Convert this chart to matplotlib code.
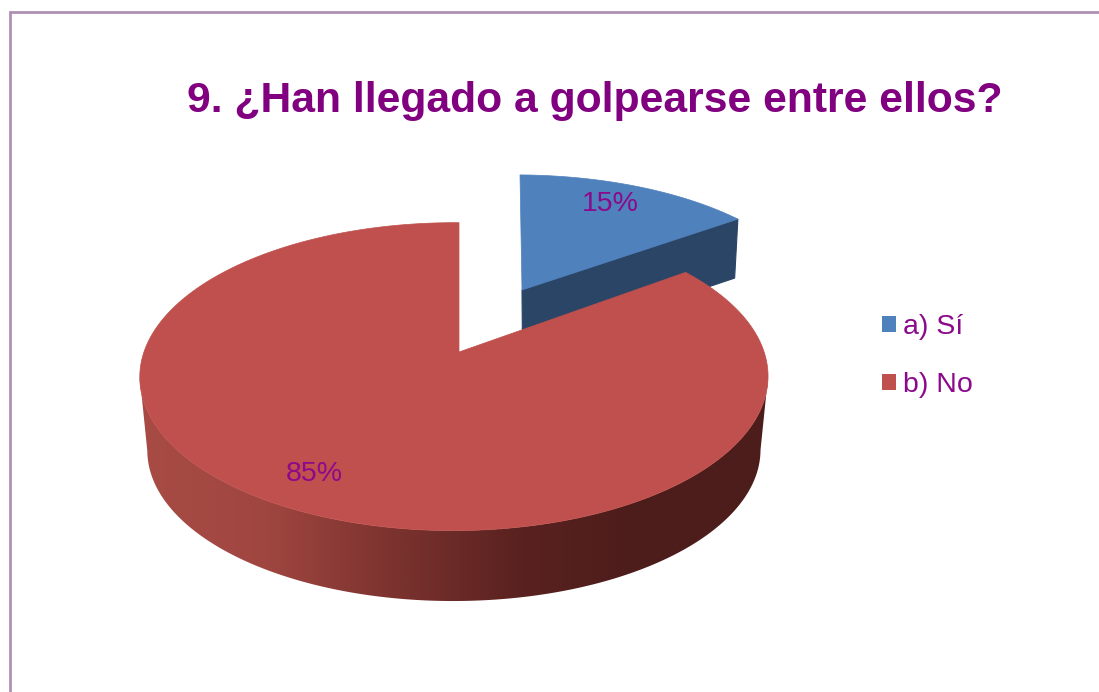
import numpy as np
import matplotlib
matplotlib.use("Agg")
import matplotlib.pyplot as plt
from matplotlib.patches import Polygon, Patch
from matplotlib.colors import LinearSegmentedColormap

title = "9. ¿Han llegado a golpearse entre ellos?"
categories = ["a) Sí", "b) No"]
values = [15, 85]
pct_labels = ["15%", "85%"]
colors = ["#4F81BD", "#C0504D"]

W, H = 1099, 692
plt.rcParams["font.family"] = ["Liberation Sans", "DejaVu Sans"]
fig = plt.figure(figsize=(W / 100, H / 100), dpi=100, facecolor="white")
ax = fig.add_axes([0, 0, 1, 1])
ax.axis("off")

K, M = 0.16, 0.016


def project(theta, ax0, ay0, a=310.0, b=150.0, shear=0.0):
    """Clockwise angle from 12 o'clock on the disc -> perspective pixels."""
    x, y = np.sin(theta), np.cos(theta)
    d = 1 + K * y + M * x
    return ax0 + a * x / d + shear * y, ay0 - b * y / d


shares = np.array(values, float) / sum(values)
ends = np.cumsum(shares) * 2 * np.pi
starts = ends - shares * 2 * np.pi

# exploded first slice
th = np.linspace(starts[0], ends[0], 80)
bx, by = project(th, 522, 290, a=297, b=133.5, shear=-2)
lowx = 522 + (bx - 522) * 0.985
lowy = by + 59
ax.fill(np.r_[522, bx[-1], lowx[-1], 522.5], np.r_[290, by[-1], lowy[-1], 349],
        color="#2A4565", lw=0.8, zorder=2)
ax.fill(np.r_[522, bx], np.r_[290, by], color=colors[0], lw=0.5, zorder=3)

# second slice: shaded rim (gradient clipped to the rim), then the top face
th = np.linspace(starts[1], ends[1], 600)
rx, ry = project(th, 459, 352)
front = np.linspace(np.radians(60), np.radians(300), 800)
fx, fy = project(front, 459, 352)
flx = 454 + (fx - 454) * 0.976
fly = 352 + 74 + (fy - 352) * 0.98
# the rim's outline runs between the side extremes of the top and bottom edges
i_r, i_l = np.argmax(fx), np.argmin(fx)
j_r, j_l = np.argmax(flx), np.argmin(flx)
outline = np.c_[np.r_[fx[i_r:i_l + 1], flx[j_l:j_r - 1:-1]],
                np.r_[fy[i_r:i_l + 1], fly[j_l:j_r - 1:-1]]]
rim_cmap = LinearSegmentedColormap.from_list(
    "rim", ["#A84B45", "#A04640", "#7C332F", "#5A2220", "#4C1D1B", "#4C1D1B"])
grad = np.linspace(0, 1, 512)[None, :]
im = ax.imshow(grad, cmap=rim_cmap, extent=(139, 769, 610, 370), aspect="auto", zorder=4)
rim = Polygon(outline, closed=True, transform=ax.transData, fc="none", ec="none")
ax.add_patch(rim)
im.set_clip_path(rim)
ax.fill(np.r_[459, rx], np.r_[352, ry], color=colors[1], lw=0.5, zorder=5)

ax.set_xlim(0, W)
ax.set_ylim(H, 0)

# frame of the chart area
ax.plot([10, 10, W + 5], [H + 5, 12, 12], color="#B08FB4", lw=2, zorder=1,
        solid_joinstyle="miter", clip_on=False)

ax.text(595, 101, title, fontsize=30.7, fontweight="bold", color="#800080",
        ha="center", va="center", zorder=8)
ax.text(610, 204, pct_labels[0], fontsize=20.5, color="#8B0A8B", ha="center", va="center", zorder=8)
ax.text(314, 474, pct_labels[1], fontsize=20.5, color="#8B0A8B", ha="center", va="center", zorder=8)

handles = [Patch(fc=c, ec="none") for c in colors]
leg = ax.legend(handles, categories, loc="upper left", bbox_to_anchor=(882 / W, 1 - 314.5 / H),
                frameon=False, fontsize=20.5, handlelength=0.49, handleheight=0.49,
                handletextpad=0.25, labelspacing=1.11, borderpad=0, borderaxespad=0,
                labelcolor="#8B0A8B")

fig.savefig("out.png", dpi=100, facecolor="white")
